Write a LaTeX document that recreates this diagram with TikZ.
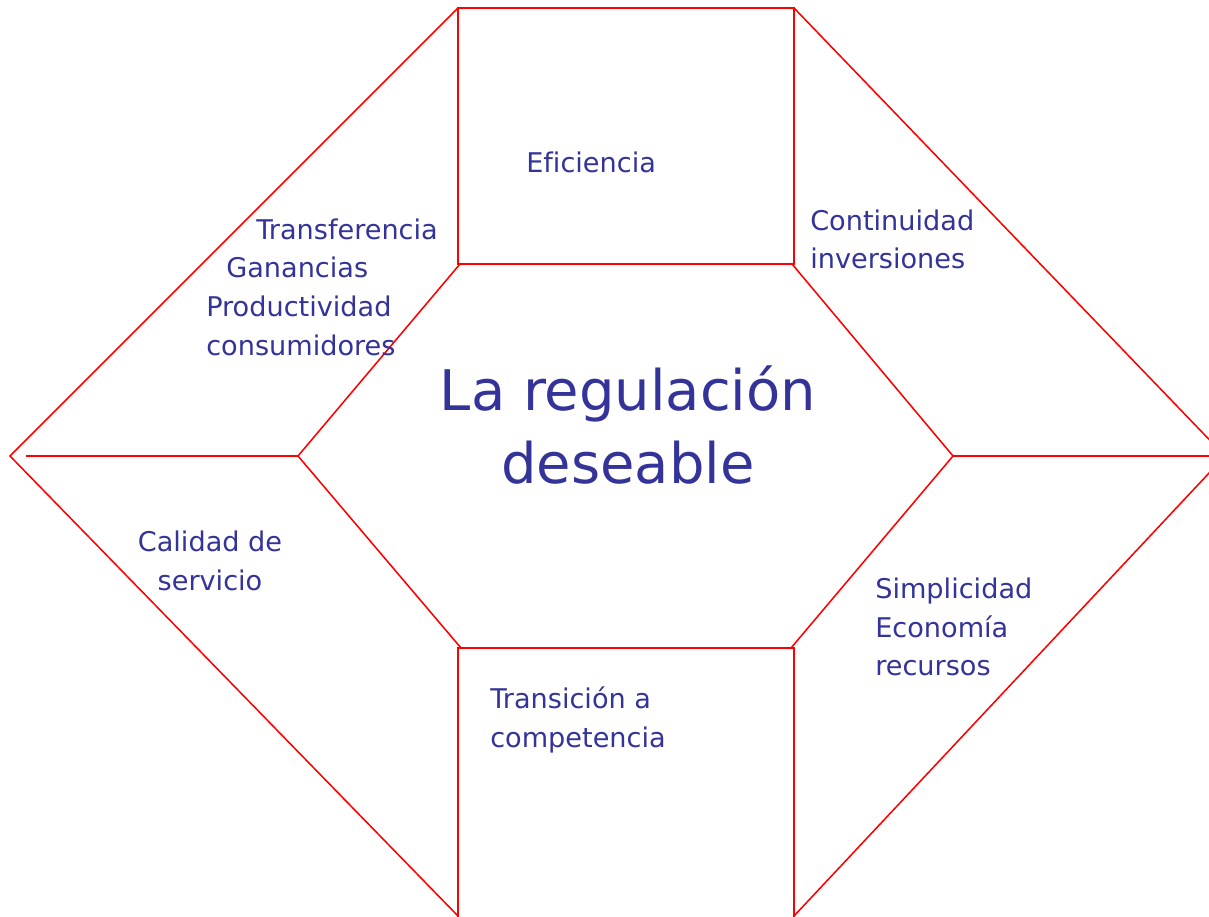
\documentclass[tikz,border=0pt]{standalone}
\usepackage{fontspec}
\setmainfont[Ligatures=NoCommon]{DejaVu Sans}
\definecolor{linered}{RGB}{255, 0, 0}
\definecolor{textblue}{RGB}{51, 51, 153}
\usetikzlibrary{positioning, calc}

\begin{document}
\begin{tikzpicture}
  \tikzset{
    frame/.style={draw=linered, line width=1.1pt, line join=miter},
    boxline/.style={draw=linered, line width=1.5pt},
    label/.style={text=textblue, font=\fontsize{19.3pt}{27.5pt}\selectfont, inner sep=0pt},
    title/.style={text=textblue, font=\fontsize{39.8pt}{52pt}\selectfont, align=center, inner sep=0pt}
  }
  \useasboundingbox (0, 0) rectangle (30.225, 22.925);
  \clip (0, 0) rectangle (30.225, 22.925);

  % Outer frame
  \draw[frame] (11.45, 22.725) -- (0.25, 11.525) -- (11.45, 0.025);
  \draw[frame] (19.85, 22.725) -- (30.625, 11.525) -- (19.85, 0.025);

  % Hexagon
  \draw[frame] (11.5, 16.325) -- (19.8, 16.325) -- (23.825, 11.525) -- (19.775, 6.725)
    -- (11.525, 6.725) -- (7.45, 11.525) -- cycle;

  % Side lines
  \draw[boxline] (0.65, 11.525) -- (7.45, 11.525);
  \draw[boxline] (23.825, 11.525) -- (30.625, 11.525);

  % Top and bottom boxes
  \draw[boxline] (11.45, 16.325) rectangle (19.85, 22.725);
  \draw[boxline] (11.45, -0.5) rectangle (19.85, 6.725);

  % Labels
  \node[title] (center) at (15.7, 12.3) {La regulación\\deseable};
  \node[label, anchor=west] (eficiencia) at (13.15, 18.875) {Eficiencia};
  \node[label, anchor=west, align=left] (transferencia) at (5.15, 15.75) {
    \hspace*{1.25cm}Transferencia\\
    \hspace*{0.5cm}Ganancias\\
    Productividad\\
    consumidores
  };
  \node[label, anchor=west, align=left] (continuidad) at (20.25, 16.94) {Continuidad\\inversiones};
  \node[label, align=center] (calidad) at (5.25, 8.91) {Calidad de\\servicio};
  \node[label, anchor=west, align=left] (simplicidad) at (21.875, 7.25) {Simplicidad\\Economía\\recursos};
  \node[label, anchor=west, align=left] (transicion) at (12.25, 4.925) {Transición a\\competencia};
\end{tikzpicture}
\end{document}
